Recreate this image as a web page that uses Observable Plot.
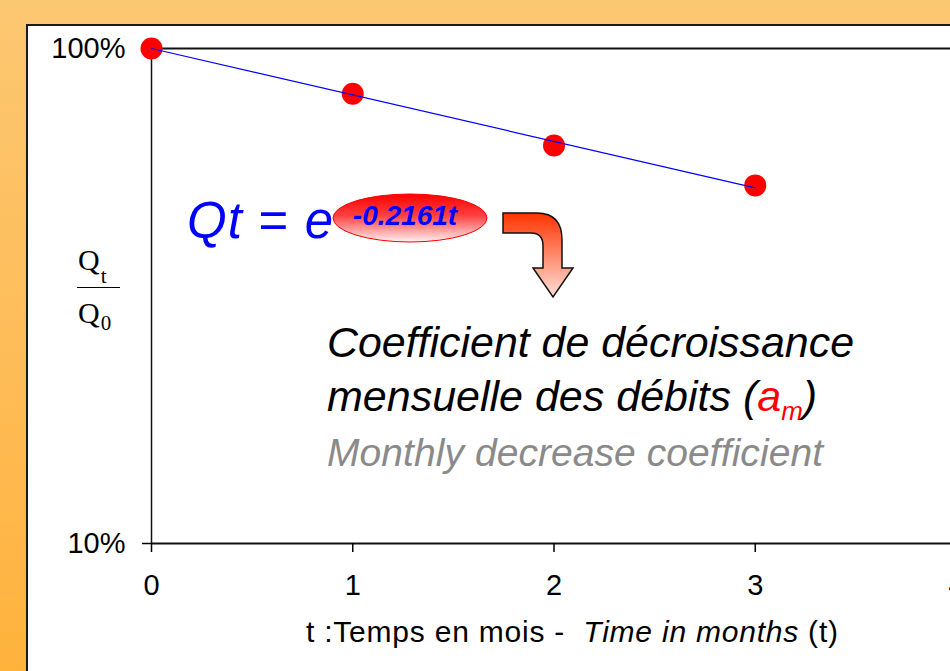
<!DOCTYPE html>
<html><head><meta charset="utf-8">
<script src="https://cdn.jsdelivr.net/npm/d3@7"></script>
<script src="https://cdn.jsdelivr.net/npm/@observablehq/plot@0.6"></script>
<style>
html,body{margin:0;padding:0;}
#wrap{position:relative;width:950px;height:671px;overflow:hidden;background:linear-gradient(to bottom,#FCC771 0%,#FEBC57 55%,#FFB23C 100%);}
#panel{position:absolute;left:26px;top:24px;width:1000px;height:700px;background:#fff;border-left:2px solid #1a1a1a;border-top:2px solid #1a1a1a;}
#chart{position:absolute;left:0;top:0;}
</style></head><body>
<div id="wrap"><div id="panel"></div><div id="chart"></div></div>
<script>
// Data
const months = [0, 1, 2, 3];
const ratios = [1.0, 0.81, 0.637, 0.529];
// fitted exponential trend Qt = e^(-0.2161 t), end points (straight on a log axis)
const fitMonths = [0, 3];
const fitRatios = [1.0, 0.523];
const xTicks = [0, 1, 2, 3, 4];
const yTicks = [0.1, 1];
const yTickLabels = ["10%", "100%"];

const points = months.map((m, i) => ({t: m, q: ratios[i]}));
const fit = fitMonths.map((m, i) => ({t: m, q: fitRatios[i]}));

const FONT = "'Liberation Sans', Arial, sans-serif";

const plot = Plot.plot({
  width: 950,
  height: 671,
  marginLeft: 151,
  marginRight: 0,
  marginTop: 48,
  marginBottom: 128,
  x: {domain: [0, 4], range: [151, 956]},
  y: {type: "log", domain: [0.1, 1], range: [543, 48]},
  style: {background: "transparent", fontFamily: FONT, color: "#000", overflow: "hidden"},
  marks: [
    Plot.ruleY([1], {stroke: "#111", strokeWidth: 2}),
    Plot.ruleX([0], {stroke: "#111", strokeWidth: 1.5}),
    Plot.ruleY([0.1], {stroke: "#111", strokeWidth: 2}),
    Plot.axisY({ticks: yTicks, tickFormat: d => yTickLabels[yTicks.indexOf(d)], tickSize: 9, tickPadding: 17, fontSize: 29, label: null, strokeWidth: 1.5}),
    Plot.axisX({ticks: xTicks, tickFormat: d => String(d), tickSize: 9, tickPadding: 22, fontSize: 29, label: null, strokeWidth: 1.5}),
    Plot.dot(points, {x: "t", y: "q", r: 11, fill: "#ff0000", stroke: "none"}),
    Plot.line(fit, {x: "t", y: "q", stroke: "#0000ff", strokeWidth: 1.2})
  ]
});
document.getElementById("chart").appendChild(plot);

const svg = d3.select(plot);
const defs = svg.append("defs");
const g1 = defs.append("linearGradient").attr("id", "ellGrad").attr("x1", 0).attr("y1", 0).attr("x2", 0).attr("y2", 1);
g1.append("stop").attr("offset", "0%").attr("stop-color", "#ff0000");
g1.append("stop").attr("offset", "45%").attr("stop-color", "#ff4040");
g1.append("stop").attr("offset", "100%").attr("stop-color", "#fff0f0");
const g2 = defs.append("linearGradient").attr("id", "arrGrad").attr("x1", 0).attr("y1", 0).attr("x2", 0).attr("y2", 1);
g2.append("stop").attr("offset", "0%").attr("stop-color", "#ff3300");
g2.append("stop").attr("offset", "100%").attr("stop-color", "#ffe0d8");

const ann = svg.append("g").attr("font-family", FONT).attr("text-anchor", "start");

// y label Qt / Q0
const yl = ann.append("g").attr("font-family", "'Liberation Serif', 'Times New Roman', serif").attr("font-size", 30).attr("fill", "#000");
yl.append("text").attr("x", 78).attr("y", 270).html('Q<tspan font-size="21" dx="1" dy="13">t</tspan>');
yl.append("line").attr("x1", 77).attr("x2", 120).attr("y1", 287.5).attr("y2", 287.5).attr("stroke", "#000").attr("stroke-width", 1.2);
yl.append("text").attr("x", 78).attr("y", 323).html('Q<tspan font-size="21" dx="1" dy="7">0</tspan>');

// formula
ann.append("text").attr("x", 187).attr("y", 238).attr("font-size", 51).attr("fill", "#0000ff")
  .attr("textLength", 146).attr("lengthAdjust", "spacing")
  .html('<tspan font-style="italic">Qt</tspan> = <tspan font-style="italic">e</tspan>');
ann.append("ellipse").attr("cx", 410).attr("cy", 218).attr("rx", 77).attr("ry", 24)
  .attr("fill", "url(#ellGrad)").attr("stroke", "#ff0000").attr("stroke-width", 1);
ann.append("text").attr("x", 405).attr("y", 225).attr("text-anchor", "middle").attr("font-size", 28)
  .attr("font-weight", "bold").attr("font-style", "italic").attr("fill", "#0000ff").text("-0.2161t");

// arrow
ann.append("path")
  .attr("d", "M503,213 L537,213 Q562,213 562,240 L562,268 L573,268 L553,297 L533,268 L543,268 L543,246 Q543,233 531,233 L503,233 Z")
  .attr("fill", "url(#arrGrad)").attr("stroke", "#111").attr("stroke-width", 1.5).attr("stroke-linejoin", "miter");

// explanation text
ann.append("text").attr("x", 327).attr("y", 357).attr("font-size", 43).attr("font-style", "italic").attr("fill", "#000")
  .attr("textLength", 527).attr("lengthAdjust", "spacingAndGlyphs")
  .text("Coefficient de décroissance");
ann.append("text").attr("x", 327).attr("y", 411).attr("font-size", 43).attr("font-style", "italic").attr("fill", "#000")
  .html('mensuelle des débits (<tspan fill="#ff0000">a</tspan><tspan fill="#ff0000" font-size="26" dy="9">m</tspan><tspan dy="-9">)</tspan>');
ann.append("text").attr("x", 327).attr("y", 466).attr("font-size", 39).attr("font-style", "italic").attr("fill", "#8a8a8a")
  .attr("textLength", 496).attr("lengthAdjust", "spacing").text("Monthly decrease coefficient");

// x axis title
ann.append("text").attr("x", 306).attr("y", 642).attr("font-size", 30).attr("fill", "#000")
  .attr("textLength", 532).attr("lengthAdjust", "spacing")
  .html('t :Temps en mois -\u00a0 <tspan font-style="italic">Time in months</tspan> (t)');
</script>
</body></html>
